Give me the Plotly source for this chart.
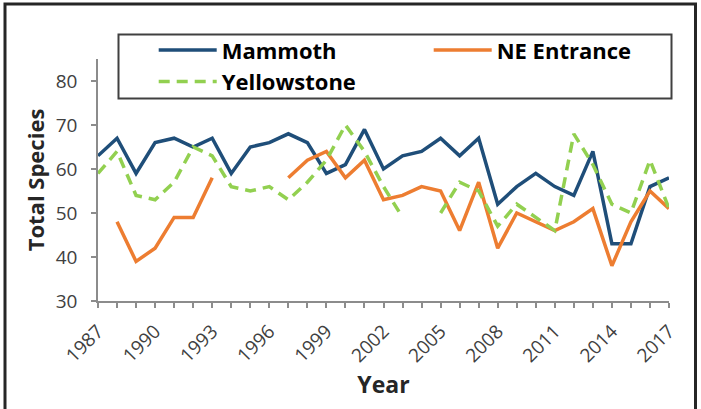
import plotly.graph_objects as go

years = list(range(1987, 2018))

mammoth = [63, 67, 59, 66, 67, 65, 67, 59, 65, 66, 68, 66, 59, 61, 69, 60,
           63, 64, 67, 63, 67, 52, 56, 59, 56, 54, 64, 43, 43, 56, 58]
ne_entrance = [None, 48, 39, 42, 49, 49, 58, None, None, None, 58, 62, 64, 58, 62, 53,
               54, 56, 55, 46, 57, 42, 50, 48, 46, 48, 51, 38, 48, 55, 51]
yellowstone = [59, 64, 54, 53, 57, 65, 63, 56, 55, 56, 53, 57, 62, 70, 64, 56,
               49, None, 50, 57, 55, 47, 52, 49, 46, 68, 61, 52, 50, 62, 51]

series_names = ["Mammoth", "NE Entrance", "Yellowstone"]
x_tick_labels = [str(y) for y in range(1987, 2018, 3)]
y_tick_values = [30, 40, 50, 60, 70, 80]

W, H = 701, 409
L, R, T, B = 98, 32, 59, 108
PW, PH = W - L - R, H - T - B


def px_x(x):
    return (x - L) / PW


def px_y(y):
    return (H - B - y) / PH


fig = go.Figure()
fig.add_trace(go.Scatter(x=years, y=mammoth, name=series_names[0], mode="lines",
                         line=dict(color="#1F4E79", width=3.5), connectgaps=False))
fig.add_trace(go.Scatter(x=years, y=ne_entrance, name=series_names[1], mode="lines",
                         line=dict(color="#ED7D31", width=3.5), connectgaps=False))
fig.add_trace(go.Scatter(x=years, y=yellowstone, name=series_names[2], mode="lines",
                         line=dict(color="#92D050", width=3.5, dash="11px,7px"),
                         connectgaps=False))

axis_color = "#8C8C8C"
tick_font = dict(family="Open Sans", size=19, color="#404040")

fig.update_xaxes(
    range=[1987, 2017],
    tickmode="array",
    tickvals=[int(t) for t in x_tick_labels],
    ticktext=x_tick_labels,
    tickangle=-45,
    ticks="outside", ticklen=5, tickwidth=1.5, tickcolor=axis_color,
    minor=dict(dtick=1, tick0=1987, ticks="outside", ticklen=5, tickwidth=1.5,
               tickcolor=axis_color, showgrid=False),
    showline=True, linecolor=axis_color, linewidth=1.5,
    showgrid=False, zeroline=False,
    tickfont=tick_font,
    ticklabelstandoff=5,
    title=dict(text="<b>Year</b>", font=dict(family="Open Sans", size=23, color="#262626"),
               standoff=4),
)
fig.update_yaxes(
    range=[30, 85],
    tickmode="array",
    tickvals=y_tick_values,
    ticks="outside", ticklen=5, tickwidth=1.5, tickcolor=axis_color,
    showline=True, linecolor=axis_color, linewidth=1.5,
    showgrid=False, zeroline=False,
    tickfont=tick_font,
    ticklabelstandoff=10,
    title=dict(text="<b>Total Species</b>", font=dict(family="Open Sans", size=22, color="#262626"),
               standoff=5),
)

# outer frame (cut off at the bottom) and legend box
fig.add_shape(type="path", xref="paper", yref="paper",
              path=f"M {px_x(5)},{px_y(430)} L {px_x(5)},{px_y(4)} L {px_x(695.5)},{px_y(4)} L {px_x(695.5)},{px_y(430)}",
              line=dict(color="#262626", width=3))
fig.add_shape(type="rect", xref="paper", yref="paper",
              x0=px_x(118.5), x1=px_x(671.5), y0=px_y(98.5), y1=px_y(34.5),
              line=dict(color="#404040", width=2), fillcolor="white", layer="below")

fig.update_layout(
    width=W, height=H,
    margin=dict(l=L, r=R, t=T, b=B, autoexpand=False),
    paper_bgcolor="white", plot_bgcolor="white",
    showlegend=True,
    legend=dict(
        orientation="h",
        x=px_x(153.7), xanchor="left",
        y=px_y(29.2), yanchor="top",
        bgcolor="rgba(0,0,0,0)", borderwidth=0,
        itemwidth=58, entrywidth=202,
        font=dict(family="Open Sans", size=22, color="#000000", weight="bold"),
        traceorder="normal",
    ),
    font=dict(family="Open Sans"),
)

fig.write_html("out.html", config={"displayModeBar": False},
               post_script="document.body.style.margin='0';document.body.style.overflow='hidden';")
